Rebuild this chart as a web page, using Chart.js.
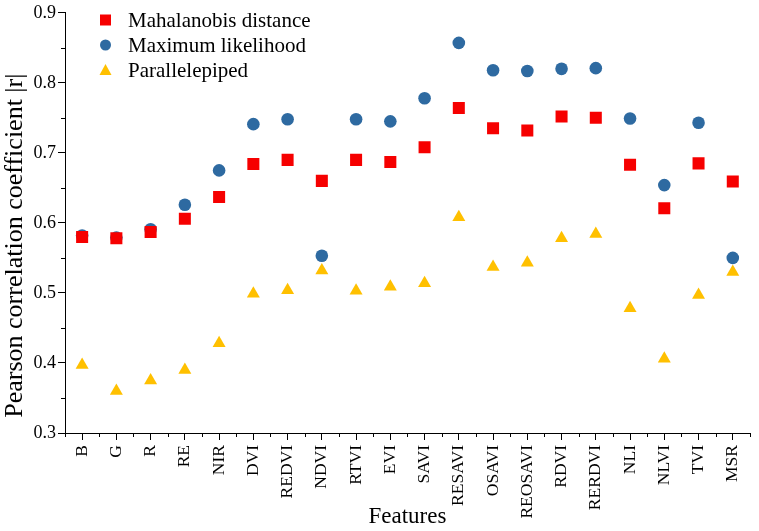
<!DOCTYPE html>
<html>
<head>
<meta charset="utf-8">
<script src="https://cdn.jsdelivr.net/npm/chart.js@4/dist/chart.umd.min.js"></script>
<style>
  html, body { margin: 0; padding: 0; background: #fff; }
  #wrap { width: 759px; height: 531px; }
</style>
</head>
<body>
<div id="wrap"><canvas id="grafico"></canvas></div>
<script>
// categorias e valores
var features = ['B', 'G', 'R', 'RE', 'NIR', 'DVI', 'REDVI', 'NDVI', 'RTVI', 'EVI',
    'SAVI', 'RESAVI', 'OSAVI', 'REOSAVI', 'RDVI', 'RERDVI', 'NLI', 'NLVI', 'TVI', 'MSR'];

var mahalanobis = [0.580, 0.578, 0.587, 0.606, 0.637, 0.684, 0.690, 0.660, 0.690, 0.687,
    0.708, 0.764, 0.735, 0.732, 0.752, 0.750, 0.683, 0.621, 0.685, 0.659];

var maxLikelihood = [0.582, 0.579, 0.591, 0.626, 0.675, 0.741, 0.748, 0.553, 0.748, 0.745,
    0.778, 0.857, 0.818, 0.817, 0.820, 0.821, 0.749, 0.654, 0.743, 0.550];

var parallelepiped = [0.397, 0.360, 0.375, 0.390, 0.428, 0.499, 0.504, 0.532, 0.503, 0.509,
    0.514, 0.608, 0.537, 0.543, 0.578, 0.584, 0.478, 0.406, 0.497, 0.530];

var yTicks = [0.3, 0.4, 0.5, 0.6, 0.7, 0.8, 0.9];

var fonte = '"Liberation Serif", "Times New Roman", serif';

// ticks menores nos dois eixos + legenda dentro da área do gráfico
var extras = {
    id: 'extras',
    afterDraw: function(chart) {
        var ctx = chart.ctx;
        var x = chart.scales.x, y = chart.scales.y;
        ctx.save();
        ctx.strokeStyle = '#000';
        ctx.lineWidth = 1;
        ctx.beginPath();
        for (var v = 0.35; v < 0.9; v += 0.1) {
            var py = Math.round(y.getPixelForValue(v)) + 0.5;
            ctx.moveTo(x.left, py);
            ctx.lineTo(x.left - 4, py);
        }
        for (var i = -0.5; i <= features.length - 0.5; i += 1) {
            var px = Math.round(x.getPixelForValue(i)) + 0.5;
            ctx.moveTo(px, y.bottom);
            ctx.lineTo(px, y.bottom + 4);
        }
        ctx.stroke();

        // legenda
        var itens = chart.data.datasets;
        ctx.font = '21px ' + fonte;
        ctx.textBaseline = 'middle';
        for (var k = 0; k < itens.length; k++) {
            var ly = 20 + k * 25;
            var lx = 105.5;
            ctx.fillStyle = itens[k].backgroundColor;
            ctx.beginPath();
            if (itens[k].pointStyle === 'rect') {
                ctx.rect(lx - 5.5, ly - 5.5, 11, 11);
            } else if (itens[k].pointStyle === 'circle') {
                ctx.arc(lx, ly, 5.5, 0, Math.PI * 2);
            } else {
                ctx.moveTo(lx, ly - 6);
                ctx.lineTo(lx + 6, ly + 5);
                ctx.lineTo(lx - 6, ly + 5);
                ctx.closePath();
            }
            ctx.fill();
            ctx.fillStyle = '#000';
            ctx.fillText(itens[k].label, 128, ly + 1);
        }
        ctx.restore();
    }
};

new Chart(document.getElementById('grafico').getContext('2d'), {
    type: 'line',
    data: {
        labels: features,
        datasets: [{
            label: 'Mahalanobis distance',
            data: mahalanobis,
            pointStyle: 'rect',
            pointRadius: 8.5,
            backgroundColor: '#f60000',
            borderColor: '#f60000',
            borderWidth: 0
        },
        {
            label: 'Maximum likelihood',
            data: maxLikelihood,
            pointStyle: 'circle',
            pointRadius: 6.3,
            backgroundColor: '#2e6aa1',
            borderColor: '#2e6aa1',
            borderWidth: 0
        },
        {
            label: 'Parallelepiped',
            data: parallelepiped,
            pointStyle: 'triangle',
            pointRadius: 7.5,
            backgroundColor: '#ffc000',
            borderColor: '#ffc000',
            borderWidth: 0
        }]
    },
    options: {
        responsive: true,
        maintainAspectRatio: false,
        animation: false,
        showLine: false,
        layout: { padding: { top: 10, left: 0, right: 0, bottom: 0 } },
        plugins: {
            legend: { display: false },
            tooltip: { enabled: false }
        },
        scales: {
            x: {
                type: 'category',
                offset: true,
                border: { color: '#000', width: 1 },
                grid: { drawOnChartArea: false, offset: false, color: '#000', tickLength: 7 },
                ticks: {
                    color: '#000',
                    font: { family: fonte, size: 17.5 },
                    minRotation: 90,
                    maxRotation: 90,
                    padding: 5,
                    autoSkip: false
                },
                title: {
                    display: true,
                    text: 'Features',
                    color: '#000',
                    font: { family: fonte, size: 23 },
                    padding: { top: 0, bottom: 0 }
                },
                afterFit: function(scale) { scale.height = 98; }
            },
            y: {
                min: 0.3,
                max: 0.9,
                border: { color: '#000', width: 1 },
                grid: { drawOnChartArea: false, color: '#000', tickLength: 7 },
                afterBuildTicks: function(scale) {
                    scale.ticks = yTicks.map(function(v) { return { value: v }; });
                },
                ticks: {
                    color: '#000',
                    font: { family: fonte, size: 18 },
                    padding: 2,
                    callback: function(v) { return v.toFixed(1); }
                },
                title: {
                    display: true,
                    // espaços no fim deslocam o título um pouco para baixo, como no original
                    text: 'Pearson correlation coefficient |r|       ',
                    color: '#000',
                    font: { family: fonte, size: 26 },
                    padding: { top: 0, bottom: 0 }
                },
                afterFit: function(scale) { scale.width = 65; }
            }
        }
    },
    plugins: [extras]
});
</script>
</body>
</html>
